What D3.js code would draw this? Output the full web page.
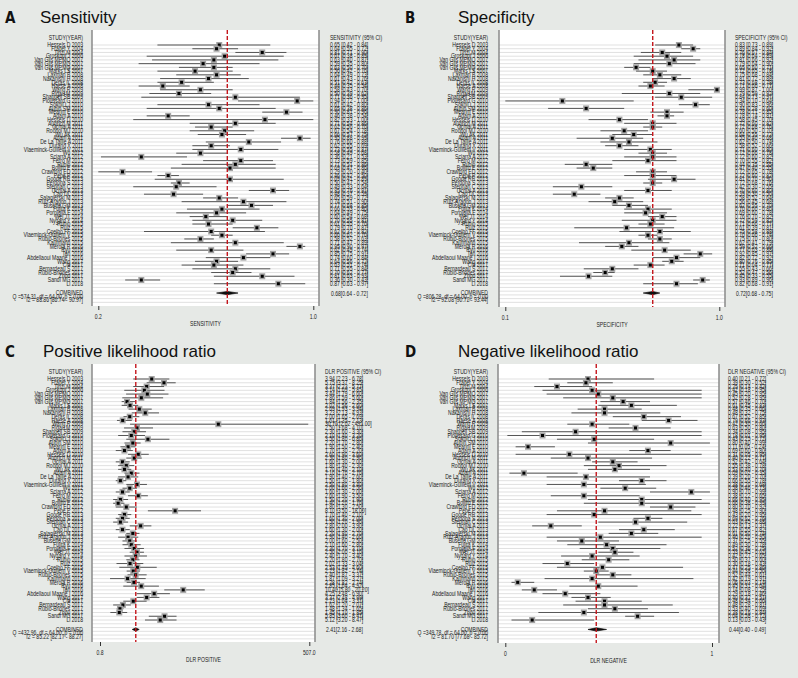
<!DOCTYPE html>
<html>
<head>
<meta charset="utf-8">
<script src="https://cdn.jsdelivr.net/npm/d3@7/dist/d3.min.js"></script>
<style>
  body { margin: 0; background: #e6e9e6; }
  svg { display: block; }
  text { font-family: "Liberation Sans", Arial, sans-serif; fill: #222; }
  .small { font-size: 6.5px; }
  .title { font-size: 17px; fill: #111; }
  .letter { font-family: "DejaVu Sans Condensed", "DejaVu Sans", sans-serif; font-weight: bold; font-size: 15px; fill: #111; }
</style>
</head>
<body>
<svg id="chart" width="798" height="678"></svg>
<script>
'use strict';

var studies = [
  'Hessels D 2003', 'Fradet Y 2004', 'Tinzl M 2004', 'Groskopf J 2006', 'Van Gils MPMQ 2007',
  'Van Gils MPMQ 2007', 'Van Gils MPMQ 2007', 'Marks LS 2007', 'Laxman B 2008', 'Nakanishi H 2008',
  'Deras IL 2008', 'Haese A 2008', 'Wang R 2009', 'Rigau M 2009', 'Shappell SB 2009',
  'Ploussard G 2010', 'Sokoll LJ 2010', 'Aubin SM 2010', 'Mearini E 2010', 'Adam A 2010',
  'Hessels D 2010', 'Auprich M 2011', 'Ochiai A 2011', 'Roobol MJ 2010', 'Wu AK 2011',
  'Adam A 2011', 'De La Taille A 2011', 'Durand X 2011', 'Vlaeminck-Guillem V 2011', 'Wu 2012',
  'Sciarra A 2012', 'Ferro M 2012', 'Rubio 2012', 'Bollito E 2012', 'Crawford ED 2012',
  'Pepe P 2012', 'Goode RR 2013', 'Perdona S 2013', 'Stephan C 2013', 'Ochiai A 2013',
  'Cao DL 2013', 'Salagierski M 2013', 'Ruiz-Aragon J 2013', 'Busetto GM 2013', 'Fujita K 2014',
  'Porpiglia F 2014', 'Wei JT 2014', 'Nygard Y 2014', 'Rubio 2015', 'Ruiz 2015',
  'Coelho FF 2015', 'Vlaeminck-Guillem V 2015', 'Rubio-Briones 2015', 'Kaufmann 2015', 'Merola R 2016',
  'Ryu 2016', 'Tan 2016', 'Abdellaoui Maane I 2016', 'Wang 2017', 'Chi 2017',
  'Bernardeau S 2017', 'Rubio-Briones 2017', 'Zhou 2017', 'Sandi MG 2017', 'Li 2018'
];

// [estimate, lower, upper]
var sensitivity = [
  [0.65, 0.42, 0.84], [0.64, 0.55, 0.72], [0.81, 0.71, 0.90], [0.67, 0.38, 0.89], [0.63, 0.40, 0.87],
  [0.59, 0.35, 0.80], [0.63, 0.50, 0.70], [0.56, 0.42, 0.70], [0.64, 0.49, 0.73], [0.61, 0.43, 0.76],
  [0.51, 0.42, 0.63], [0.44, 0.35, 0.54], [0.58, 0.43, 0.70], [0.50, 0.39, 0.62], [0.71, 0.36, 0.95],
  [0.94, 0.72, 1.00], [0.61, 0.42, 0.80], [0.65, 0.38, 0.86], [0.90, 0.81, 0.96], [0.46, 0.38, 0.54],
  [0.82, 0.33, 1.00], [0.71, 0.54, 0.86], [0.62, 0.56, 0.70], [0.67, 0.54, 0.78], [0.66, 0.57, 0.75],
  [0.95, 0.88, 0.99], [0.76, 0.60, 0.88], [0.62, 0.55, 0.69], [0.73, 0.55, 0.87], [0.58, 0.49, 0.68],
  [0.36, 0.21, 0.53], [0.73, 0.59, 0.85], [0.71, 0.51, 0.86], [0.69, 0.47, 0.86], [0.29, 0.20, 0.40],
  [0.46, 0.42, 0.50], [0.69, 0.41, 0.89], [0.50, 0.47, 0.54], [0.49, 0.33, 0.64], [0.85, 0.76, 0.91],
  [0.48, 0.37, 0.59], [0.65, 0.59, 0.72], [0.74, 0.51, 0.90], [0.77, 0.68, 0.85], [0.66, 0.53, 0.80],
  [0.64, 0.49, 0.75], [0.60, 0.54, 0.68], [0.70, 0.55, 0.81], [0.61, 0.55, 0.70], [0.79, 0.70, 0.87],
  [0.62, 0.37, 0.82], [0.66, 0.62, 0.70], [0.58, 0.52, 0.63], [0.71, 0.47, 0.89], [0.95, 0.90, 0.97],
  [0.62, 0.49, 0.74], [0.85, 0.75, 0.91], [0.74, 0.60, 0.84], [0.64, 0.56, 0.72], [0.63, 0.51, 0.74],
  [0.71, 0.55, 0.84], [0.70, 0.62, 0.77], [0.81, 0.63, 0.93], [0.36, 0.30, 0.43], [0.87, 0.63, 0.97]
];

var specificity = [
  [0.83, 0.73, 0.89], [0.89, 0.84, 0.92], [0.76, 0.67, 0.84], [0.78, 0.64, 0.89], [0.81, 0.66, 0.92],
  [0.79, 0.64, 0.90], [0.65, 0.60, 0.71], [0.72, 0.65, 0.78], [0.75, 0.68, 0.84], [0.81, 0.72, 0.88],
  [0.73, 0.68, 0.78], [0.71, 0.66, 0.77], [0.99, 0.87, 1.00], [0.79, 0.59, 0.92], [0.84, 0.73, 0.97],
  [0.34, 0.10, 0.64], [0.90, 0.83, 0.96], [0.44, 0.28, 0.60], [0.78, 0.71, 0.85], [0.78, 0.74, 0.81],
  [0.58, 0.45, 0.70], [0.72, 0.60, 0.82], [0.72, 0.68, 0.76], [0.60, 0.50, 0.70], [0.64, 0.55, 0.72],
  [0.55, 0.40, 0.68], [0.62, 0.50, 0.74], [0.58, 0.52, 0.66], [0.71, 0.60, 0.80], [0.72, 0.66, 0.78],
  [0.72, 0.60, 0.82], [0.70, 0.55, 0.82], [0.44, 0.35, 0.55], [0.47, 0.40, 0.55], [0.72, 0.65, 0.78],
  [0.72, 0.60, 0.82], [0.81, 0.70, 0.90], [0.72, 0.68, 0.76], [0.42, 0.30, 0.55], [0.70, 0.60, 0.80],
  [0.39, 0.30, 0.50], [0.58, 0.52, 0.64], [0.56, 0.45, 0.68], [0.62, 0.55, 0.70], [0.70, 0.60, 0.80],
  [0.69, 0.60, 0.78], [0.76, 0.70, 0.82], [0.72, 0.59, 0.82], [0.71, 0.66, 0.77], [0.61, 0.39, 0.81],
  [0.75, 0.58, 0.88], [0.70, 0.66, 0.74], [0.75, 0.70, 0.80], [0.62, 0.41, 0.79], [0.59, 0.52, 0.66],
  [0.77, 0.63, 0.88], [0.92, 0.85, 0.97], [0.82, 0.72, 0.92], [0.80, 0.76, 0.85], [0.71, 0.64, 0.77],
  [0.55, 0.43, 0.66], [0.52, 0.47, 0.56], [0.45, 0.33, 0.55], [0.93, 0.89, 0.96], [0.82, 0.68, 0.91]
];

var dlrPositive = [
  [3.94, 2.23, 6.78], [5.75, 3.37, 8.25], [3.37, 2.23, 5.77], [3.14, 1.69, 5.85], [3.44, 1.79, 6.60],
  [2.86, 1.59, 5.60], [1.84, 1.56, 2.35], [2.02, 1.56, 2.60], [2.69, 1.93, 3.94], [3.23, 2.13, 4.93],
  [2.00, 1.65, 2.69], [1.61, 1.35, 2.13], [30.7, 2.02, 491], [2.50, 1.68, 4.10], [2.30, 1.60, 3.30],
  [2.10, 1.40, 3.20], [3.50, 1.80, 6.80], [2.20, 1.70, 2.80], [1.90, 1.50, 2.40], [1.70, 1.30, 2.20],
  [2.60, 1.90, 3.60], [2.30, 1.80, 2.90], [1.60, 1.30, 2.00], [1.80, 1.40, 2.30], [1.70, 1.40, 2.10],
  [2.10, 1.70, 2.70], [1.90, 1.40, 2.60], [1.50, 1.30, 1.80], [2.50, 1.80, 3.40], [2.00, 1.60, 2.50],
  [1.60, 1.30, 2.00], [2.60, 1.90, 3.50], [1.50, 1.20, 1.90], [1.40, 1.20, 1.70], [1.80, 1.30, 2.50],
  [8.10, 3.50, 18.0], [1.70, 1.40, 2.10], [1.60, 1.30, 2.00], [1.50, 1.20, 1.90], [2.80, 2.00, 3.90],
  [1.60, 1.30, 2.00], [2.20, 1.80, 2.70], [1.90, 1.40, 2.60], [2.00, 1.60, 2.50], [2.10, 1.60, 2.80],
  [2.30, 1.70, 3.10], [2.50, 2.00, 3.10], [2.40, 1.70, 3.40], [2.20, 1.80, 2.70], [2.02, 1.33, 3.04],
  [2.53, 1.45, 4.60], [2.23, 1.82, 2.74], [2.40, 1.87, 3.37], [1.87, 1.09, 3.27], [2.28, 1.82, 2.74],
  [2.85, 1.64, 4.92], [10.4, 5.80, 20.2], [4.25, 2.48, 6.90], [3.37, 2.48, 4.99], [2.23, 1.64, 3.37],
  [1.62, 1.20, 2.07], [1.48, 1.34, 1.65], [1.45, 1.10, 1.85], [5.85, 3.60, 8.47], [5.12, 3.20, 8.47]
];

var dlrNegative = [
  [0.40, 0.21, 0.72], [0.39, 0.30, 0.52], [0.25, 0.14, 0.42], [0.42, 0.18, 0.95], [0.45, 0.20, 0.95],
  [0.52, 0.28, 0.95], [0.57, 0.46, 0.70], [0.61, 0.45, 0.83], [0.48, 0.35, 0.66], [0.48, 0.32, 0.75],
  [0.67, 0.52, 0.85], [0.79, 0.66, 0.93], [0.42, 0.30, 0.60], [0.63, 0.50, 0.80], [0.34, 0.08, 0.95],
  [0.18, 0.01, 0.95], [0.43, 0.25, 0.72], [0.80, 0.40, 0.99], [0.11, 0.05, 0.24], [0.69, 0.60, 0.80],
  [0.31, 0.05, 0.95], [0.40, 0.22, 0.71], [0.52, 0.42, 0.64], [0.55, 0.38, 0.78], [0.53, 0.40, 0.70],
  [0.09, 0.02, 0.35], [0.39, 0.20, 0.70], [0.66, 0.55, 0.78], [0.38, 0.20, 0.68], [0.58, 0.46, 0.73],
  [0.90, 0.70, 0.99], [0.38, 0.22, 0.65], [0.66, 0.40, 0.95], [0.66, 0.38, 0.99], [0.80, 0.70, 0.92],
  [0.48, 0.25, 0.90], [0.43, 0.20, 0.95], [0.69, 0.62, 0.76], [0.63, 0.45, 0.88], [0.22, 0.13, 0.37],
  [0.67, 0.55, 0.82], [0.61, 0.50, 0.74], [0.46, 0.20, 0.95], [0.37, 0.25, 0.55], [0.49, 0.30, 0.78],
  [0.52, 0.36, 0.75], [0.53, 0.45, 0.62], [0.42, 0.27, 0.65], [0.50, 0.37, 0.60], [0.30, 0.18, 0.43],
  [0.47, 0.25, 0.86], [0.44, 0.38, 0.50], [0.52, 0.44, 0.61], [0.42, 0.19, 0.91], [0.06, 0.03, 0.14],
  [0.45, 0.31, 0.64], [0.14, 0.08, 0.25], [0.29, 0.18, 0.46], [0.40, 0.32, 0.51], [0.48, 0.34, 0.66],
  [0.48, 0.28, 0.81], [0.53, 0.40, 0.69], [0.38, 0.16, 0.84], [0.64, 0.58, 0.72], [0.13, 0.03, 0.43]
];

var pooled = {
  sens: [0.68, 0.64, 0.72],
  spec: [0.72, 0.68, 0.75],
  pos:  [2.41, 2.16, 2.68],
  neg:  [0.44, 0.40, 0.49]
};

var heterogeneity = {
  sens: ['Q =574.31, df = 64.00, p = 0.00', 'I2 = 88.86 [86.74 - 90.97]'],
  spec: ['Q =806.28, df = 64.00, p = 0.00', 'I2 = 92.08 [90.72 - 93.44]'],
  pos:  ['Q =432.96, df = 64.00, p = 0.00', 'I2 = 85.22 [82.17 - 88.27]'],
  neg:  ['Q =349.78, df = 64.00, p = 0.00', 'I2 = 81.70 [77.68 - 85.72]']
};

var panels = [
  { letter: 'A', title: 'Sensitivity', key: 'sens', data: sensitivity,
    header: 'SENSITIVITY (95% CI)', axisTitle: 'SENSITIVITY',
    domain: [0.2, 1.0], ticks: ['0.2', '1.0'], log: false,
    box: [92, 319], axis: [98.3, 313.3], top: 30, bottom: 306, rowTop: 45, step: 3.73,
    labelX: 83, textX: 330, letterX: 5, titleX: 40, titleY: 23 },
  { letter: 'B', title: 'Specificity', key: 'spec', data: specificity,
    header: 'SPECIFICITY (95% CI)', axisTitle: 'SPECIFICITY',
    domain: [0.1, 1.0], ticks: ['0.1', '1.0'], log: false,
    box: [499, 725], axis: [505.3, 719.3], top: 30, bottom: 307, rowTop: 45, step: 3.73,
    labelX: 488, textX: 735, letterX: 405, titleX: 458, titleY: 23 },
  { letter: 'C', title: 'Positive likelihood ratio', key: 'pos', data: dlrPositive,
    header: 'DLR POSITIVE (95% CI)', axisTitle: 'DLR POSITIVE',
    domain: [0.8, 507.0], ticks: ['0.8', '507.0'], log: true,
    box: [92, 315], axis: [100, 309.3], top: 364, bottom: 642, rowTop: 379, step: 3.766,
    labelX: 83, textX: 325, letterX: 5, titleX: 43, titleY: 357 },
  { letter: 'D', title: 'Negative likelihood ratio', key: 'neg', data: dlrNegative,
    header: 'DLR NEGATIVE (95% CI)', axisTitle: 'DLR NEGATIVE',
    domain: [0, 1], ticks: ['0', '1'], log: false,
    box: [498, 719], axis: [505.3, 712], top: 364, bottom: 643, rowTop: 379, step: 3.766,
    labelX: 488, textX: 728, letterX: 405, titleX: 458, titleY: 357 }
];

var NARROW = 0.78;   // the source uses a condensed face; squeeze the small text

var svg = d3.select('#chart');

svg.append('rect')
  .attr('width', 798)
  .attr('height', 678)
  .attr('fill', '#e6e9e6');

panels.forEach(drawPanel);


function fmt(v) {
  return v.toFixed(2);
}


function place(x, y) {
  return 'translate(' + x + ',' + y + ') scale(' + NARROW + ',1)';
}


function small(g, x, y, str, anchor) {
  return g.append('text')
    .attr('class', 'small')
    .attr('transform', place(x, y))
    .attr('text-anchor', anchor || 'start')
    .text(str);
}


function drawPanel(p) {
  var g = svg.append('g');

  var x = (p.log ? d3.scaleLog() : d3.scaleLinear())
    .domain(p.domain)
    .range(p.axis);

  var y = function(i) { return p.rowTop + i * p.step; };
  var combinedY = y(studies.length - 1 + 2.5);

  // titles
  g.append('text').attr('class', 'letter')
    .attr('x', p.letterX).attr('y', p.titleY).text(p.letter);
  g.append('text').attr('class', 'title')
    .attr('x', p.titleX).attr('y', p.titleY).text(p.title);

  // plot region
  g.append('rect')
    .attr('x', p.box[0]).attr('y', p.top)
    .attr('width', p.box[1] - p.box[0]).attr('height', p.bottom - p.top)
    .attr('fill', '#fff');

  // row guide lines
  g.selectAll('.guide')
    .data(d3.range(studies.length + 5))
    .enter().append('line')
    .attr('class', 'guide')
    .attr('x1', p.box[0]).attr('x2', p.box[1])
    .attr('y1', function(i) { return y(i); })
    .attr('y2', function(i) { return y(i); })
    .attr('stroke', '#d4d4d4')
    .attr('stroke-width', 0.7);

  // side borders
  [p.box[0], p.box[1]].forEach(function(bx) {
    g.append('line')
      .attr('x1', bx).attr('x2', bx)
      .attr('y1', p.top).attr('y2', p.bottom)
      .attr('stroke', '#8a8a8a')
      .attr('stroke-width', 1.5);
  });

  // confidence intervals and point estimates
  var rowsG = g.selectAll('.study')
    .data(p.data)
    .enter().append('g')
    .attr('class', 'study');

  rowsG.append('line')
    .attr('x1', function(d) { return x(d[1]); })
    .attr('x2', function(d) { return x(d[2]); })
    .attr('y1', function(d, i) { return y(i); })
    .attr('y2', function(d, i) { return y(i); })
    .attr('stroke', '#555')
    .attr('stroke-width', 1);

  rowsG.append('rect')
    .attr('x', function(d) { return x(d[0]) - 3; })
    .attr('y', function(d, i) { return y(i) - 3; })
    .attr('width', 6).attr('height', 6)
    .attr('fill', '#a3a3a3');

  rowsG.append('rect')
    .attr('x', function(d) { return x(d[0]) - 1.5; })
    .attr('y', function(d, i) { return y(i) - 1.5; })
    .attr('width', 3).attr('height', 3)
    .attr('fill', '#000');

  // pooled diamond
  var c = pooled[p.key];
  g.append('path')
    .attr('d', 'M' + x(c[1]) + ',' + combinedY +
      'L' + x(c[0]) + ',' + (combinedY - 1.6) +
      'L' + x(c[2]) + ',' + combinedY +
      'L' + x(c[0]) + ',' + (combinedY + 1.6) + 'Z')
    .attr('fill', '#111')
    .attr('stroke', '#000')
    .attr('stroke-width', 0.6);

  // pooled reference line
  g.append('line')
    .attr('x1', x(c[0])).attr('x2', x(c[0]))
    .attr('y1', p.top).attr('y2', p.bottom)
    .attr('stroke', '#c4161c')
    .attr('stroke-width', 1.4)
    .attr('stroke-dasharray', '4,2');

  // left labels
  small(g, p.labelX, y(-2) + 2.2, 'STUDY(YEAR)', 'end');

  g.selectAll('.label')
    .data(studies)
    .enter().append('text')
    .attr('class', 'small')
    .attr('text-anchor', 'end')
    .attr('transform', function(d, i) { return place(p.labelX, y(i) + 2.2); })
    .text(function(d) { return d; });

  small(g, p.labelX, combinedY + 2.2, 'COMBINED', 'end');
  heterogeneity[p.key].forEach(function(s, k) {
    small(g, p.labelX, combinedY + 2.2 + (k + 1) * 3.6, s, 'end');
  });

  // right column
  small(g, p.textX, y(-2) + 2.2, p.header);

  g.selectAll('.ci')
    .data(p.data)
    .enter().append('text')
    .attr('class', 'small')
    .attr('transform', function(d, i) { return place(p.textX, y(i) + 2.2); })
    .text(function(d) { return fmt(d[0]) + ' [' + fmt(d[1]) + ' - ' + fmt(d[2]) + ']'; });

  small(g, p.textX + 1, combinedY + 2.5,
    fmt(c[0]) + '[' + fmt(c[1]) + ' - ' + fmt(c[2]) + ']');

  // x axis: end ticks only
  var axis = d3.axisBottom(x)
    .tickValues(p.ticks.map(Number))
    .tickSize(4)
    .tickFormat('');

  var ax = g.append('g')
    .attr('transform', 'translate(0,' + p.bottom + ')')
    .call(axis);
  ax.select('.domain').remove();
  ax.selectAll('line').attr('stroke', '#333');

  p.ticks.forEach(function(t) {
    small(g, x(+t), p.bottom + 13, t, 'middle');
  });

  small(g, (p.box[0] + p.box[1]) / 2, p.bottom + 20, p.axisTitle, 'middle');
}
</script>
</body>
</html>
